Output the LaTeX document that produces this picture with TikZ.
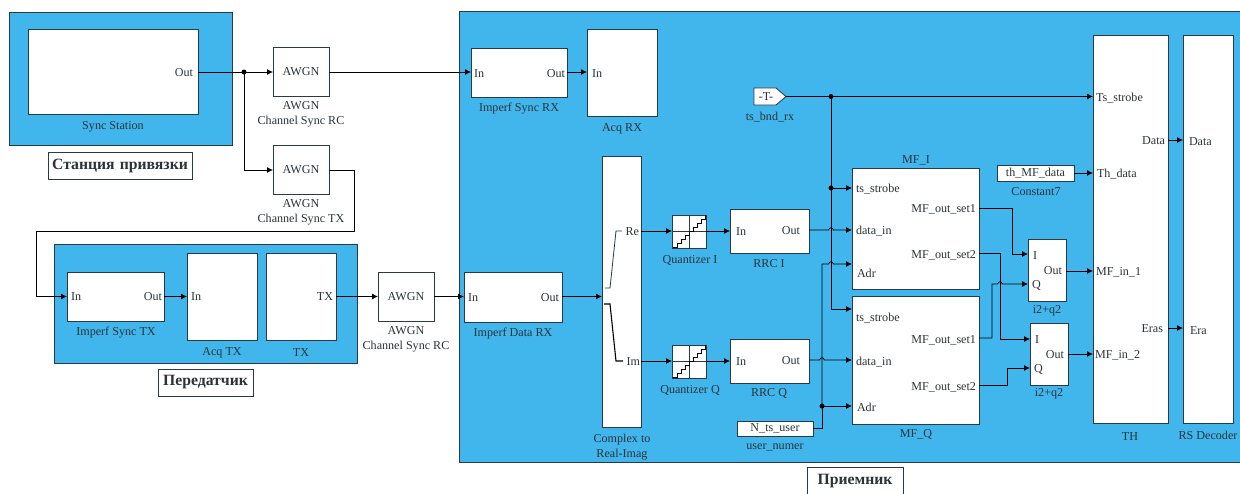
\documentclass[tikz,border=0pt]{standalone}
\usepackage{fontspec}
\setmainfont{Liberation Serif}
\usetikzlibrary{arrows.meta}
\definecolor{skyb}{HTML}{41B6EC}
\definecolor{edge}{HTML}{2A3A44}
\definecolor{ink}{HTML}{2B3338}
\tikzset{
  x=1pt,y=-1pt,
  box/.style={draw=edge,line width=.85pt,fill=white,inner sep=0pt,outer sep=0pt,text=ink},
  panel/.style={draw=edge,line width=.85pt,fill=skyb,inner sep=0pt,outer sep=0pt},
  title/.style={draw=edge,line width=.85pt,fill=white,inner sep=0pt,outer sep=0pt,text=ink,font=\fontsize{15.7}{17}\selectfont\bfseries},
  lbl/.style={inner sep=0pt,outer sep=0pt,text=ink,font=\fontsize{12.1}{14.5}\selectfont,text height=7.5pt,text depth=2pt,yshift=-1.6pt},
  capt/.style={inner sep=0pt,outer sep=0pt,text=ink,align=center,font=\fontsize{12.1}{14.7}\selectfont,yshift=-1.8pt},
  wire/.style={draw=black,line width=.85pt,-{Latex[length=6pt,width=6pt]},rounded corners=0pt},
  plain/.style={draw=black,line width=.85pt},
  dot/.style={circle,fill=black,inner sep=0pt,minimum size=5pt},
}
% name, style, x1, y1, x2, y2, text
\newcommand{\rbox}[7]{%
  \pgfmathsetmacro{\cxv}{(#3+#5)/2}\pgfmathsetmacro{\cyv}{(#4+#6)/2}%
  \pgfmathsetmacro{\wv}{#5-#3}\pgfmathsetmacro{\hv}{#6-#4}%
  \node[#2,minimum width=\wv pt,minimum height=\hv pt,text width=\wv pt-2pt,align=center] (#1) at (\cxv,\cyv) {#7};}
\newcommand{\pl}[4]{\node[lbl,anchor=west] (#1) at (#2,#3) {#4};}
\newcommand{\pr}[4]{\node[lbl,anchor=east] (#1) at (#2,#3) {#4};}
\newcommand{\bt}[1]{\raisebox{-1pt}{\fontsize{12.1}{14}\selectfont #1}}
\newcommand{\ttl}[1]{\raisebox{-1.8pt}{#1}}
\newcommand{\quant}[1]{%
  \draw[line width=.7pt,draw=edge] (#1.west) -- (#1.east) (#1.north) -- (#1.south);
  \draw[line width=.85pt,draw=black,shift={(#1.south west)}]
    (1,-1) -- ++(4,0) -- ++(0,-4) -- ++(4,0) -- ++(0,-4) -- ++(4,0) -- ++(0,-4) -- ++(4,0) -- ++(0,-4)
    -- ++(4,0) -- ++(0,-4) -- ++(4,0) -- ++(0,-4) -- ++(4,0) -- ++(0,-4) -- ++(4,0) -- ++(0,-4);}
\begin{document}
\begin{tikzpicture}
\useasboundingbox (0,0) rectangle (1240,493);
% panels
\rbox{psync}{panel}{9}{12}{232}{145}{}
\rbox{ptx}{panel}{54}{244}{357}{363}{}
\rbox{prx}{panel}{459}{11}{1246}{462}{}
% titles
\rbox{tsync}{title}{48}{152}{192}{179}{\ttl{Станция привязки}}
\rbox{ttx}{title}{158}{369}{253}{396}{\ttl{Передатчик}}
\rbox{trx}{title}{807}{467}{903}{496}{\ttl{Приемник}}
% left blocks
\rbox{sync}{box}{28}{29}{198}{114}{}
\rbox{awa}{box}{273}{47}{329}{96}{\bt{AWGN}}
\rbox{awb}{box}{273}{145}{329}{194}{\bt{AWGN}}
\rbox{awc}{box}{378}{272}{434}{321}{\bt{AWGN}}
\rbox{imtx}{box}{67}{272}{164}{321}{}
\rbox{acqtx}{box}{187}{253}{257}{340}{}
\rbox{tx}{box}{266}{253}{336}{340}{}
% receiver blocks
\rbox{imsrx}{box}{471}{48}{567}{97}{}
\rbox{acqrx}{box}{587}{29}{657}{116}{}
\rbox{imdrx}{box}{464}{272}{562}{322}{}
\rbox{cplx}{box}{602}{156}{641}{427}{}
\rbox{qi}{box}{672}{215}{706}{248}{}
\rbox{qq}{box}{672}{345}{706}{378}{}
\rbox{rrci}{box}{730}{209}{809}{253}{}
\rbox{rrcq}{box}{730}{339}{809}{383}{}
\rbox{nts}{box}{737}{421}{813}{436}{\bt{N\_ts\_user}}
\rbox{mfi}{box}{852}{168}{979}{289}{}
\rbox{mfq}{box}{852}{296}{979}{424}{}
\rbox{thc}{box}{997}{165}{1074}{181}{\bt{th\_MF\_data}}
\rbox{iqa}{box}{1028}{239}{1066}{301}{}
\rbox{iqb}{box}{1030}{323}{1068}{385}{}
\rbox{th}{box}{1093}{35}{1168}{423}{}
\rbox{rs}{box}{1183}{35}{1233}{423}{}
% from tag
\draw[box] (754,88) -- (776,88) -- (786,96.5) -- (776,105) -- (754,105) -- cycle;
\node[lbl] (tagt) at (766,96.5) {-T-};
\coordinate (tagtip) at (786,96.5);
% quantizer icons
\quant{qi}\quant{qq}
% complex icon
\draw[line width=.8pt,draw=edge] (605,288) -- (610,288) -- (616,231) -- (622,231);
\draw[line width=1.1pt,draw=black] (604,304) -- (610,304) -- (616,361) -- (623,361);
% port labels
\pr{lsyncout}{193}{72}{Out}
\pl{limtxin}{71}{296}{In}
\pr{limtxout}{162}{296}{Out}
\pl{lacqin}{191}{296}{In}
\pr{ltx}{333}{296}{TX}
\pl{ldin}{468}{297}{In}
\pr{ldout}{559}{297}{Out}
\pl{lsin}{474}{73}{In}
\pr{lsout}{565}{73}{Out}
\pl{lacqrx}{592}{73}{In}
\pr{lre}{639}{231}{Re}
\pr{lim}{640}{361}{Im}
\pl{lrin}{736}{231}{In}
\pr{lrout}{800}{230}{Out}
\pl{lqin}{736}{361}{In}
\pr{lqout}{800}{360}{Out}
\pl{lits}{856}{188}{ts\_strobe}
\pr{lis1}{976}{208}{MF\_out\_set1}
\pl{lidi}{856}{230}{data\_in}
\pr{lis2}{976}{254}{MF\_out\_set2}
\pl{liad}{857}{273}{Adr}
\pl{lqts}{856}{317}{ts\_strobe}
\pr{lqs1}{976}{339}{MF\_out\_set1}
\pl{lqdi}{856}{361}{data\_in}
\pr{lqs2}{976}{386}{MF\_out\_set2}
\pl{lqad}{857}{407}{Adr}
\pl{laI}{1033}{255}{I}
\pr{laO}{1062}{270}{Out}
\pl{laQ}{1032}{284}{Q}
\pl{lbI}{1035}{339}{I}
\pr{lbO}{1064}{354}{Out}
\pl{lbQ}{1034}{368}{Q}
\pl{ltts}{1096}{97}{Ts\_strobe}
\pr{ltd}{1165}{140}{Data}
\pl{ltth}{1097}{173}{Th\_data}
\pl{ltm1}{1096}{271}{MF\_in\_1}
\pl{ltm2}{1095}{354}{MF\_in\_2}
\pr{lter}{1163}{328}{Eras}
\pl{lrd}{1189}{141}{Data}
\pl{lre2}{1190}{330}{Era}
% captions
\node[capt] (c1) at (113,125) {Sync Station};
\node[capt] (c2) at (301,112.5) {AWGN\\Channel Sync RC};
\node[capt] (c3) at (301,210.5) {AWGN\\Channel Sync TX};
\node[capt] (c4) at (406,337.5) {AWGN\\Channel Sync RC};
\node[capt] (c5) at (116,331) {Imperf Sync TX};
\node[capt] (c6) at (222,351) {Acq TX};
\node[capt] (c7) at (301,351) {TX};
\node[capt] (c8) at (519,107) {Imperf Sync RX};
\node[capt] (c9) at (622,127) {Acq RX};
\node[capt] (c10) at (513,332) {Imperf Data RX};
\node[capt] (c11) at (622,445) {Complex to\\Real-Imag};
\node[capt] (c12) at (690,259) {Quantizer I};
\node[capt] (c13) at (690,389) {Quantizer Q};
\node[capt] (c14) at (769,262) {RRC I};
\node[capt] (c15) at (769,392) {RRC Q};
\node[capt] (c16) at (770,115) {ts\_bnd\_rx};
\node[capt] (c17) at (775,446) {user\_numer};
\node[capt] (c18) at (916,159) {MF\_I};
\node[capt] (c19) at (916,433) {MF\_Q};
\node[capt] (c20) at (1036,190) {Constant7};
\node[capt] (c21) at (1047,309) {i2+q2};
\node[capt] (c22) at (1049,392) {i2+q2};
\node[capt] (c23) at (1130,435) {TH};
\node[capt] (c24) at (1208,434) {RS Decoder};
% junction coordinates
\coordinate (ja) at (244,72);
\coordinate (jb) at (831,96.5);
\coordinate (jc) at (831,188);
\coordinate (jd) at (822,406);
% left wiring
\draw[plain] (sync.east |- ja) -- (ja);
\draw[wire] (ja) -- (awa.west |- ja);
\draw[wire] (ja) |- (awb.west |- 0,170);
\draw[wire] (awa.east |- ja) -- (imsrx.west |- ja);
\draw[wire] (awb.east |- 0,170) -- (354,170) -- (354,231) -- (36,231) -- (36,296.5) -- (imtx.west |- 0,296.5);
\draw[wire] (imtx.east |- 0,296.5) -- (acqtx.west |- 0,296.5);
\draw[wire] (tx.east |- 0,296.5) -- (awc.west |- 0,296.5);
\draw[wire] (awc.east |- 0,296.5) -- (imdrx.west |- 0,296.5);
\draw[wire] (imsrx.east |- ja) -- (acqrx.west |- ja);
\draw[wire] (imdrx.east |- 0,296.5) -- (cplx.west |- 0,296.5);
\draw[wire] (cplx.east |- 0,231) -- (qi.west |- 0,231);
\draw[wire] (qi.east |- 0,231) -- (rrci.west |- 0,231);
\draw[wire] (cplx.east |- 0,361) -- (qq.west |- 0,361);
\draw[wire] (qq.east |- 0,361) -- (rrcq.west |- 0,361);
% strobe bus
\draw[wire] (tagtip) -- (th.west |- tagtip);
\draw[plain] (jb) -- (jc);
\draw[wire] (jc) -- (mfi.west |- jc);
\draw[wire] (jc) |- (mfq.west |- 0,309);
% data inputs, with hops
\draw[wire] (rrci.east |- 0,230) -- (828.5,230) .. controls (830,227) and (832,227) .. (833.5,230) -- (mfi.west |- 0,230);
\draw[wire] (rrcq.east |- 0,360) -- (819.5,360) .. controls (821,357) and (823,357) .. (824.5,360) -- (mfq.west |- 0,360);
% address
\draw[plain] (nts.east |- 0,428) -- (822,428) -- (jd);
\draw[wire] (jd) -- (mfq.west |- jd);
\draw[wire] (jd) -- (822,264) -- (828.5,264) .. controls (830,261) and (832,261) .. (833.5,264) -- (mfi.west |- 0,264);
% to i2+q2
\draw[wire] (mfi.east |- 0,208) -- (1012,208) -- (1012,254) -- (iqa.west |- 0,254);
\draw[wire] (mfi.east |- 0,253) -- (1000,253) -- (1000,339) -- (iqb.west |- 0,339);
\draw[wire] (mfq.east |- 0,338) -- (992,338) -- (992,284) -- (997.5,284) .. controls (999,281) and (1001,281) .. (1002.5,284) -- (iqa.west |- 0,284);
\draw[wire] (mfq.east |- 0,385) -- (1007,385) -- (1007,368) -- (iqb.west |- 0,368);
% to threshold block and decoder
\draw[wire] (iqa.east |- 0,271) -- (th.west |- 0,271);
\draw[wire] (iqb.east |- 0,354) -- (th.west |- 0,354);
\draw[wire] (thc.east |- 0,173) -- (th.west |- 0,173);
\draw[wire] (th.east |- 0,140) -- (rs.west |- 0,140);
\draw[wire] (th.east |- 0,328) -- (rs.west |- 0,328);
% junction dots
\node[dot] (da) at (ja) {};
\node[dot] (db) at (jb) {};
\node[dot] (dc) at (jc) {};
\node[dot] (dd) at (jd) {};
\end{tikzpicture}
\end{document}
